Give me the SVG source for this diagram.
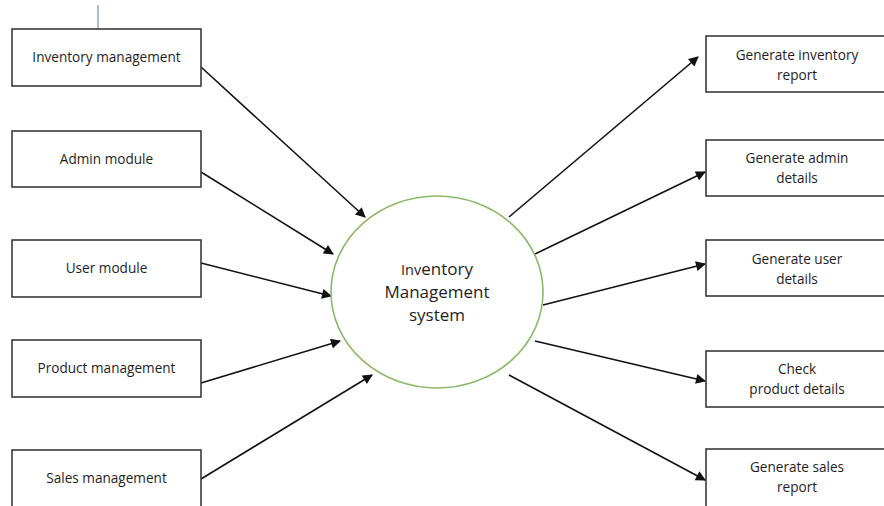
<svg xmlns="http://www.w3.org/2000/svg" width="884" height="506" viewBox="0 0 884 506">
<style>
.box{fill:#fff;stroke:#3a3a3a;stroke-width:1.6}
.t{font-family:"Open Sans","Liberation Sans",sans-serif;font-size:13.6px;fill:#1e1e1e;text-anchor:middle}
.c{font-family:"Open Sans","Liberation Sans",sans-serif;font-size:17px;fill:#1e1e1e;text-anchor:middle}
.e{stroke:#111;stroke-width:1.6;fill:none;marker-end:url(#ah)}
</style>
<defs>
<marker id="ah" viewBox="0 0 10 10" refX="9" refY="5" markerWidth="11" markerHeight="10" markerUnits="userSpaceOnUse" orient="auto">
<path d="M0,0 L10,5 L0,10 z" fill="#111"/>
</marker>
</defs>
<rect width="884" height="506" fill="#fff"/>
<line x1="98" y1="5" x2="98" y2="29" stroke="#5b7b99" stroke-width="1"/>
<g id="connectors">
<line class="e" x1="201" y1="67" x2="365" y2="217"/>
<line class="e" x1="201" y1="172" x2="333" y2="254"/>
<line class="e" x1="201" y1="263" x2="331" y2="296"/>
<line class="e" x1="201" y1="383" x2="340" y2="341"/>
<line class="e" x1="201" y1="479" x2="372" y2="375"/>
<line class="e" x1="509" y1="217" x2="698" y2="57"/>
<line class="e" x1="535" y1="254" x2="705" y2="172"/>
<line class="e" x1="543" y1="305" x2="705" y2="264"/>
<line class="e" x1="535" y1="341" x2="705" y2="381"/>
<line class="e" x1="509" y1="375" x2="705" y2="480"/>
</g>
<g id="center">
<ellipse cx="437" cy="292" rx="106" ry="96" fill="#fff" stroke="#8db86a" stroke-width="1.6"/>
<text class="c" x="437" y="275"><tspan font-size="14.5">Inv</tspan>entory</text>
<text class="c" x="437" y="298">Management</text>
<text class="c" x="437" y="321">system</text>
</g>
<g id="n1"><rect class="box" x="12" y="29" width="189" height="57"/><text class="t" x="106.5" y="62">Inventory management</text></g>
<g id="n2"><rect class="box" x="12" y="131" width="189" height="56"/><text class="t" x="106.5" y="164">Admin module</text></g>
<g id="n3"><rect class="box" x="12" y="240" width="189" height="57"/><text class="t" x="106.5" y="273">User module</text></g>
<g id="n4"><rect class="box" x="12" y="340" width="189" height="57"/><text class="t" x="106.5" y="373">Product management</text></g>
<g id="n5"><rect class="box" x="12" y="450" width="189" height="60"/><text class="t" x="106.5" y="483">Sales management</text></g>
<g id="o1"><rect class="box" x="706" y="36" width="182" height="56"/><text class="t" x="797" y="60">Generate inventory</text><text class="t" x="797" y="80">report</text></g>
<g id="o2"><rect class="box" x="706" y="140" width="182" height="56"/><text class="t" x="797" y="163">Generate admin</text><text class="t" x="797" y="183">details</text></g>
<g id="o3"><rect class="box" x="706" y="240" width="182" height="56"/><text class="t" x="797" y="264">Generate user</text><text class="t" x="797" y="284">details</text></g>
<g id="o4"><rect class="box" x="706" y="351" width="182" height="56"/><text class="t" x="797" y="374">Check</text><text class="t" x="797" y="394">product details</text></g>
<g id="o5"><rect class="box" x="706" y="449" width="182" height="60"/><text class="t" x="797" y="472">Generate sales</text><text class="t" x="797" y="492">report</text></g>
</svg>
